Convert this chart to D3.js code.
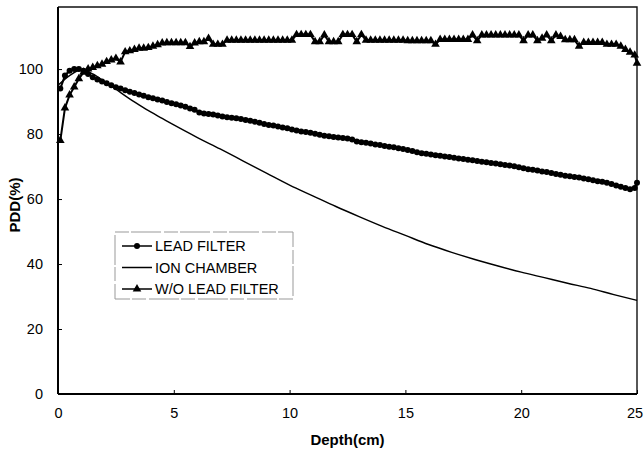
<!DOCTYPE html>
<html>
<head>
<meta charset="utf-8">
<script src="https://cdn.jsdelivr.net/npm/d3@7"></script>
<style>
  body { margin: 0; background: #fff; }
  text { font-family: "Liberation Sans", Arial, sans-serif; fill: #000; }
</style>
</head>
<body>
<svg id="chart" width="644" height="450"></svg>
<script>
// depth grid of the measured series (cm)
let depth = [
  0.1, 0.3, 0.5, 0.7, 0.9, 1.1, 1.3, 1.5, 1.7, 1.9,
  2.1, 2.3, 2.5, 2.7, 2.9, 3.1, 3.3, 3.5, 3.7, 3.9,
  4.1, 4.3, 4.5, 4.7, 4.9, 5.1, 5.3, 5.5, 5.7, 5.9,
  6.1, 6.3, 6.5, 6.7, 6.9, 7.1, 7.3, 7.5, 7.7, 7.9,
  8.1, 8.3, 8.5, 8.7, 8.9, 9.1, 9.3, 9.5, 9.7, 9.9,
  10.1, 10.3, 10.5, 10.7, 10.9, 11.1, 11.3, 11.5, 11.7, 11.9,
  12.1, 12.3, 12.5, 12.7, 12.9, 13.1, 13.3, 13.5, 13.7, 13.9,
  14.1, 14.3, 14.5, 14.7, 14.9, 15.1, 15.3, 15.5, 15.7, 15.9,
  16.1, 16.3, 16.5, 16.7, 16.9, 17.1, 17.3, 17.5, 17.7, 17.9,
  18.1, 18.3, 18.5, 18.7, 18.9, 19.1, 19.3, 19.5, 19.7, 19.9,
  20.1, 20.3, 20.5, 20.7, 20.9, 21.1, 21.3, 21.5, 21.7, 21.9,
  22.1, 22.3, 22.5, 22.7, 22.9, 23.1, 23.3, 23.5, 23.7, 23.9,
  24.1, 24.3, 24.5, 24.7, 24.9, 25.0
];

let leadFilter = [
  94, 98, 99.5, 100, 100, 99.5, 98.5, 97.5, 96.8, 96.2,
  95.6, 95, 94.4, 94, 93.5, 93, 92.6, 92.2, 91.8, 91.3,
  91, 90.6, 90.3, 89.9, 89.5, 89.2, 88.8, 88.4, 87.9, 87.5,
  86.6, 86.3, 86.2, 86, 85.7, 85.4, 85.2, 85, 84.9, 84.6,
  84.3, 84.1, 83.8, 83.5, 83.1, 82.8, 82.6, 82.3, 82, 81.8,
  81.4, 81.1, 80.8, 80.6, 80.4, 80.1, 79.8, 79.5, 79.3, 79.1,
  78.9, 78.8, 78.6, 78.3, 77.7, 77.5, 77.3, 77.1, 76.8, 76.6,
  76.3, 76.1, 75.9, 75.6, 75.4, 75.1, 74.8, 74.4, 74.1, 73.9,
  73.7, 73.5, 73.3, 73.1, 72.9, 72.7, 72.5, 72.3, 72.1, 71.9,
  71.7, 71.5, 71.3, 71.1, 70.9, 70.7, 70.5, 70.3, 70.1, 69.8,
  69.5, 69.2, 69, 68.8, 68.5, 68.3, 68, 67.7, 67.5, 67.2,
  67, 66.8, 66.6, 66.3, 66.1, 65.8, 65.5, 65.3, 65, 64.6,
  64.2, 63.8, 63.4, 63.0, 63.4, 65
];

let noFilter = [
  78, 88, 92, 94.5, 97, 99, 100, 100.5, 101, 101.5,
  102.3, 102.8, 103.3, 102.2, 105.3, 105.6, 106, 106.4, 106.4, 106.6,
  107, 107.5, 108, 108.1, 108.1, 108.1, 108.1, 108.1, 106.9, 108,
  108.4, 108.4, 109.4, 107.6, 107.6, 107.6, 108.9, 108.9, 108.9, 108.9,
  108.9, 108.9, 108.9, 108.9, 108.9, 108.9, 108.9, 108.9, 108.9, 108.9,
  108.9, 110.6, 110.6, 110.6, 110.6, 108.4, 108.4, 110.5, 108.4, 108.4,
  108.4, 110.6, 110.6, 110.6, 108.4, 110.6, 108.9, 108.9, 108.9, 108.9,
  108.9, 108.9, 108.9, 108.9, 108.9, 108.7, 108.7, 108.7, 108.7, 108.7,
  108.7, 107.6, 109.1, 109.1, 109.1, 109.1, 109.1, 109.1, 109.1, 110.5,
  108.7, 110.5, 110.5, 110.5, 110.5, 110.5, 110.5, 110.5, 110.5, 110.5,
  108.7, 110.5, 110.5, 108.7, 109.5, 110.5, 108.7, 110.5, 110, 109,
  109, 109, 107, 108.2, 108.2, 108.2, 108.2, 108.2, 107.6, 107.6,
  107.6, 107, 106, 105.2, 104.3, 101.8
];

let ionDepth = [0, 0.5, 1, 1.5, 2, 2.5, 3, 3.5, 4, 4.5, 5, 6, 7, 8, 9, 10,
  11, 12, 13, 14, 15, 16, 17, 18, 19, 20, 21, 22, 23, 24, 25];
let ionChamber = [95, 98, 99.7, 98.5, 96.2, 93.8, 91.3, 89, 86.8, 84.8, 82.8, 79, 75.4, 71.7, 68, 64.3,
  61, 57.7, 54.6, 51.6, 48.8, 46, 43.6, 41.4, 39.4, 37.5, 35.8, 34.1, 32.5, 30.6, 28.8];

let xTicks = [0, 5, 10, 15, 20, 25];
let yTicks = [0, 20, 40, 60, 80, 100];
let seriesNames = ['LEAD FILTER', 'ION CHAMBER', 'W/O LEAD FILTER'];

let svg = d3.select('#chart');
let plotLeft = 58, plotRight = 637, plotTop = 7, plotBottom = 394;

let x = d3.scaleLinear().domain([0, 25]).range([plotLeft, plotRight]);
let y = d3.scaleLinear().domain([0, 119.1]).range([plotBottom, plotTop]);

// frame (top / right)
svg.append('path')
  .attr('d', `M${plotLeft},${plotTop}H${plotRight}V${plotBottom}`)
  .attr('fill', 'none')
  .attr('stroke', '#111')
  .attr('stroke-width', 1.4);

// axes
let xAxis = svg.append('g')
  .attr('transform', `translate(0,${plotBottom})`)
  .call(d3.axisBottom(x).tickValues(xTicks).tickSizeInner(-4).tickSizeOuter(0).tickPadding(14));
let yAxis = svg.append('g')
  .attr('transform', `translate(${plotLeft},0)`)
  .call(d3.axisLeft(y).tickValues(yTicks).tickSizeInner(-4).tickSizeOuter(0).tickPadding(15));

[xAxis, yAxis].forEach((g) => {
  g.select('.domain').attr('stroke', '#000').attr('stroke-width', 2);
  g.selectAll('.tick line').attr('stroke', '#000').attr('stroke-width', 1);
  g.selectAll('.tick text')
    .style('font-family', '"Liberation Sans", Arial, sans-serif')
    .style('font-size', '14.5px')
    .attr('fill', '#000');
});
yAxis.select('.domain').attr('d', `M0,${plotBottom}V${plotTop}`);
xAxis.select('.domain').attr('d', `M${plotLeft},0H${plotRight}`);
// keep the last label inside the window
xAxis.selectAll('.tick text').filter((d) => d === 25).attr('dx', -2.5);

// axis titles
svg.append('text')
  .attr('x', (plotLeft + plotRight) / 2)
  .attr('y', 445)
  .attr('text-anchor', 'middle')
  .style('font-size', '15px')
  .style('font-weight', 'bold')
  .text('Depth(cm)');
svg.append('text')
  .attr('transform', `translate(20,205) rotate(-90)`)
  .attr('text-anchor', 'middle')
  .style('font-size', '15px')
  .style('font-weight', 'bold')
  .text('PDD(%)');

let line = d3.line().x((d) => x(d[0])).y((d) => y(d[1]));
let leadData = depth.map((d, i) => [d, leadFilter[i]]);
let noData = depth.map((d, i) => [d, noFilter[i]]);
let ionData = ionDepth.map((d, i) => [d, ionChamber[i]]);

// ion chamber (plain line)
svg.append('path')
  .datum(ionData)
  .attr('d', line.curve(d3.curveMonotoneX))
  .attr('fill', 'none')
  .attr('stroke', '#000')
  .attr('stroke-width', 1.4);

line.curve(d3.curveLinear);

// lead filter (circles)
svg.append('path')
  .datum(leadData)
  .attr('d', line)
  .attr('fill', 'none')
  .attr('stroke', '#000')
  .attr('stroke-width', 2);
svg.append('g')
  .selectAll('circle')
  .data(leadData)
  .join('circle')
  .attr('cx', (d) => x(d[0]))
  .attr('cy', (d) => y(d[1]))
  .attr('r', 3)
  .attr('fill', '#000');

// without lead filter (triangles)
let tri = d3.symbol().type(d3.symbolTriangle).size(32);
svg.append('path')
  .datum(noData)
  .attr('d', line)
  .attr('fill', 'none')
  .attr('stroke', '#000')
  .attr('stroke-width', 2);
svg.append('g')
  .selectAll('path')
  .data(noData)
  .join('path')
  .attr('transform', (d) => `translate(${x(d[0])},${y(d[1])})`)
  .attr('d', tri)
  .attr('fill', '#000');

// legend
let legend = svg.append('g');
legend.append('rect')
  .attr('x', 115).attr('y', 232)
  .attr('width', 178).attr('height', 67)
  .attr('fill', '#fff')
  .attr('stroke', '#999')
  .attr('stroke-width', 1)
  .attr('stroke-dasharray', '14,2,30,3');

let legendY = [246, 267.5, 289];
seriesNames.forEach((name, i) => {
  let ly = legendY[i];
  legend.append('line')
    .attr('x1', 122).attr('x2', 152)
    .attr('y1', ly).attr('y2', ly)
    .attr('stroke', '#000')
    .attr('stroke-width', 1.5);
  if (i === 0) {
    legend.append('circle').attr('cx', 137).attr('cy', ly).attr('r', 3).attr('fill', '#000');
  } else if (i === 2) {
    legend.append('path')
      .attr('transform', `translate(137,${ly})`)
      .attr('d', tri)
      .attr('fill', '#000');
  }
  legend.append('text')
    .attr('x', 155)
    .attr('y', ly)
    .attr('dy', '0.36em')
    .style('font-size', '14.5px')
    .text(name);
});
</script>
</body>
</html>
